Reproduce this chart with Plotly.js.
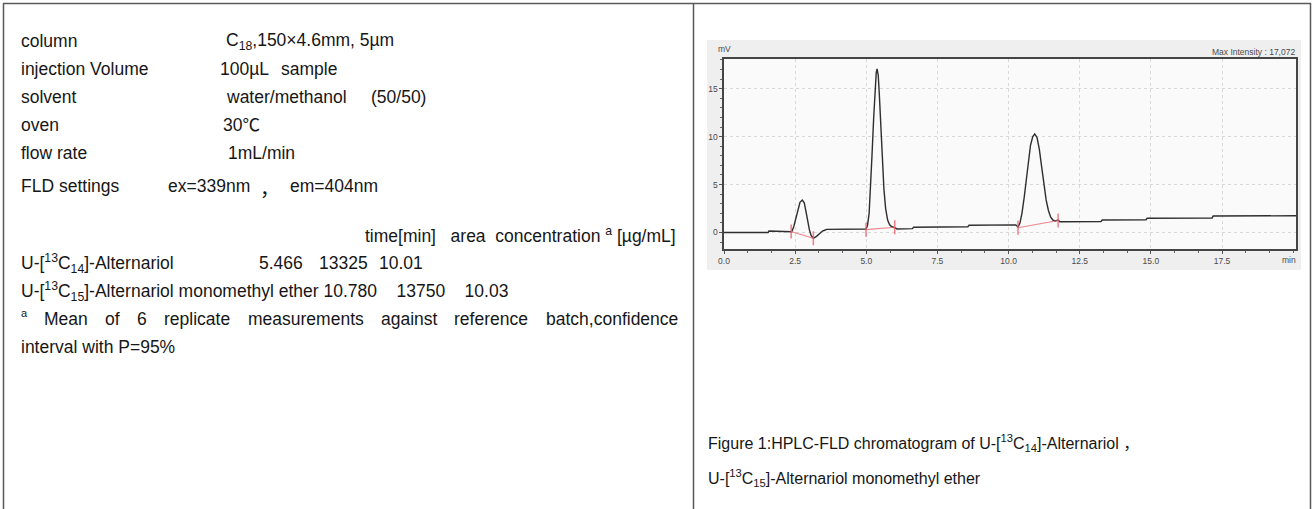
<!DOCTYPE html>
<html>
<head>
<meta charset="utf-8">
<script src="https://cdn.plot.ly/plotly-3.0.1.min.js"></script>
<style>html,body{margin:0;padding:0;background:#fff;}#chart{width:1313px;height:509px;}</style>
</head>
<body>
<div id="chart"></div>
<script>
// ---- chromatogram data ----
const timeMin = [0, 1.55, 1.58, 2.30, 2.38, 2.45, 2.52, 2.60, 2.67, 2.75, 2.82, 2.88, 2.94, 3.00, 3.06,
  3.14, 3.25, 3.36, 3.46, 3.56, 3.60, 4.99, 5.04, 5.10, 5.15, 5.20, 5.26, 5.31, 5.35, 5.38,
  5.42, 5.46, 5.51, 5.56, 5.62, 5.68, 5.75, 5.82, 5.90, 6.00, 6.08, 6.62, 6.66, 8.57, 8.61,
  10.25, 10.33, 10.40, 10.47, 10.55, 10.62, 10.70, 10.77, 10.85, 10.92, 11.00, 11.08, 11.16, 11.24, 11.32,
  11.40, 11.48, 11.56, 11.64, 11.74, 11.80, 13.25, 13.29, 14.83, 14.87, 17.15, 17.19, 20.1];
const signalMv = [0, 0, 0.15, 0.15, 0.08, 0.6, 1.5, 2.5, 3.15, 3.39, 3.1, 2.2, 1.2, 0.3, -0.3,
  -0.6, -0.4, -0.1, 0.15, 0.26, 0.33, 0.36, 0.7, 2.0, 4.5, 8.0, 12.0, 15.2, 16.7, 17.07,
  16.4, 14.3, 11.0, 7.5, 4.5, 2.5, 1.3, 0.8, 0.6, 0.5, 0.37, 0.4, 0.55, 0.6, 0.75,
  0.8, 0.57, 1.0, 2.0, 3.7, 5.6, 7.6, 9.1, 10.0, 10.28, 9.9, 8.7, 6.9, 5.0, 3.4,
  2.3, 1.6, 1.3, 1.2, 1.3, 1.13, 1.15, 1.3, 1.33, 1.48, 1.52, 1.72, 1.75];
// integration baselines (start / end of each peak)
const baseTime = [2.36, 3.14, null, 4.99, 6.00, null, 10.33, 11.74];
const baseMv = [0.1, -0.6, null, 0.3, 0.55, null, 0.5, 1.25];

const xTickVals = [0, 2.5, 5, 7.5, 10, 12.5, 15, 17.5];
const xTickText = ['0.0', '2.5', '5.0', '7.5', '10.0', '12.5', '15.0', '17.5'];
const yTickVals = [0, 5, 10, 15];
const yTickText = ['0', '5', '10', '15'];
const maxIntensity = '17,072';

// ---- table text ----
const conditionLabels = ['column', 'injection Volume', 'solvent', 'oven', 'flow rate'];
const conditionValues = ['C<sub>18</sub>,150×4.6mm, 5µm', '100µL', 'water/methanol', '30℃', '1mL/min'];
const conditionExtras = ['', 'sample', '(50/50)', '', ''];
const fldLabel = 'FLD settings';
const fldValues = ['ex=339nm', '，', 'em=404nm'];
const headerCols = ['time[min]', 'area', 'concentration <sup>a</sup> [µg/mL]'];
const compounds = ['U-[<sup>13</sup>C<sub>14</sub>]-Alternariol', 'U-[<sup>13</sup>C<sub>15</sub>]-Alternariol monomethyl ether'];
const retTimes = ['5.466', '10.780'];
const areas = ['13325', '13750'];
const concs = ['10.01', '10.03'];
const footnoteMark = 'a';
const footnoteWords = ['Mean', 'of', '6', 'replicate', 'measurements', 'against', 'reference', 'batch,confidence'];
const footnoteLine2 = 'interval with P=95%';
const captionLines = ['Figure 1:HPLC-FLD chromatogram of U-[<sup>13</sup>C<sub>14</sub>]-Alternariol ，',
  'U-[<sup>13</sup>C<sub>15</sub>]-Alternariol monomethyl ether'];

// ---- layout helpers ----
const W = 1313, H = 509;
const fx = x => x / W;
const fy = y => 1 - y / H;
const FONT = 'Liberation Sans, Arial, Noto Sans CJK SC, sans-serif';
const FS = 17.5;
const NB = '\u00a0';
const GAP3 = NB + NB + NB + ' ';
const ann = [];
function txt(x, y, text, opt) {
  ann.push(Object.assign({
    xref: 'paper', yref: 'paper', x: fx(x), y: fy(y), text: text,
    xanchor: 'left', yanchor: 'middle', showarrow: false, borderpad: 0,
    font: {family: FONT, size: FS, color: '#161616'}
  }, opt || {}));
}
const ctx = document.createElement('canvas').getContext('2d');
function measure(s, size) { ctx.font = size + 'px "Liberation Sans", Arial, sans-serif'; return ctx.measureText(s).width; }

const condY = [41, 69, 97, 125, 153];
const condX = [225, 219, 225, 222, 227];
const extraX = [0, 280, 370, 0, 0];
conditionLabels.forEach((l, i) => {
  txt(20, condY[i], l);
  txt(condX[i], condY[i], conditionValues[i]);
  if (conditionExtras[i]) txt(extraX[i], condY[i], conditionExtras[i]);
});
txt(20, 186, fldLabel);
txt(167, 186, fldValues[0]);
txt(259, 188, fldValues[1], {font: {family: 'Noto Sans CJK SC, sans-serif', size: FS + 2, color: '#161616'}});
txt(289, 186, fldValues[2]);

// header, right end aligned with the column's right text margin
txt(677, 235, headerCols[0] + NB + NB + NB + headerCols[1] + NB + NB + headerCols[2], {xanchor: 'right'});

txt(20, 263, compounds[0]);
txt(258, 263, retTimes[0]);
txt(318, 263, areas[0]);
txt(378, 263, concs[0]);

txt(20, 291, compounds[1] + ' ' + retTimes[1] + GAP3 + areas[1] + GAP3 + concs[1]);

// justified footnote line (spans the full text column)
(function () {
  const left = 20, right = 677;
  const markW = measure(footnoteMark, 11);
  txt(left, 313, footnoteMark, {font: {family: FONT, size: 11, color: '#161616'}});
  const widths = footnoteWords.map(w => measure(w, FS));
  const total = markW + widths.reduce((a, b) => a + b, 0);
  const gap = (right - left - total) / footnoteWords.length;
  let x = left + markW + gap;
  footnoteWords.forEach((w, i) => {
    txt(x, 319, w);
    x += widths[i] + gap;
  });
})();
txt(20, 347, footnoteLine2);

const CAP = {family: FONT, size: 16, color: '#161616'};
txt(707, 443, captionLines[0], {font: CAP});
txt(707, 478, captionLines[1], {font: CAP});

// chart small texts
const SMALL = {family: 'Liberation Sans, Arial, sans-serif', size: 8.5, color: '#4a4a4a'};
ann.push({xref: 'paper', yref: 'paper', x: fx(1297), y: fy(52), text: 'Max Intensity : ' + maxIntensity,
  xanchor: 'right', yanchor: 'middle', showarrow: false, font: SMALL});
ann.push({xref: 'paper', yref: 'paper', x: fx(724), y: fy(49), text: 'mV',
  xanchor: 'center', yanchor: 'middle', showarrow: false, font: SMALL});
ann.push({xref: 'x', yref: 'paper', x: 19.85, y: fy(260), text: 'min',
  xanchor: 'center', yanchor: 'middle', showarrow: false, font: SMALL});

const BORDER = '#5a5a5a';
const shapes = [
  // table borders
  {type: 'line', xref: 'paper', yref: 'paper', x0: fx(3.5), x1: fx(3.5), y0: fy(3), y1: fy(512), line: {color: BORDER, width: 1.5}},
  {type: 'line', xref: 'paper', yref: 'paper', x0: fx(1310.5), x1: fx(1310.5), y0: fy(3), y1: fy(512), line: {color: BORDER, width: 1.5}},
  {type: 'line', xref: 'paper', yref: 'paper', x0: fx(693.5), x1: fx(693.5), y0: fy(3), y1: fy(512), line: {color: BORDER, width: 1.5}},
  {type: 'line', xref: 'paper', yref: 'paper', x0: fx(3), x1: fx(1311), y0: fy(3.5), y1: fy(3.5), line: {color: BORDER, width: 1.5}},
  // chromatogram picture background
  {type: 'rect', xref: 'paper', yref: 'paper', x0: fx(707), x1: fx(1301), y0: fy(270), y1: fy(40),
    fillcolor: '#efefef', line: {width: 0}, layer: 'below'},
  {type: 'rect', xref: 'x domain', yref: 'y domain', x0: 0, x1: 1, y0: 0, y1: 1,
    fillcolor: '#fafafa', line: {width: 0}, layer: 'below'}
];

const traces = [
  {x: timeMin, y: signalMv, type: 'scatter', mode: 'lines', line: {color: '#2e2e2e', width: 1.4}, hoverinfo: 'skip'},
  {x: baseTime, y: baseMv, type: 'scatter', mode: 'lines+markers', connectgaps: false,
    line: {color: 'rgba(235,95,105,0.75)', width: 1.2},
    marker: {symbol: 'line-ns-open', size: 10, color: 'rgba(235,95,105,0.8)', line: {color: 'rgba(235,95,105,0.8)', width: 1.5}},
    hoverinfo: 'skip'}
];

const layout = {
  width: W, height: H, margin: {l: 0, r: 0, t: 0, b: 0},
  paper_bgcolor: '#ffffff', plot_bgcolor: '#fafafa', showlegend: false,
  xaxis: {domain: [fx(724), fx(1296)], range: [0, 20.1], tickmode: 'array', tickvals: xTickVals, ticktext: xTickText,
    showline: true, mirror: true, linecolor: '#454545', linewidth: 1.6,
    ticks: 'outside', ticklen: 3, tickcolor: '#555', tickfont: SMALL,
    showgrid: true, gridcolor: '#d8d8d8', griddash: 'dot', gridwidth: 1, zeroline: false,
    minor: {dtick: 2.5 / 3, tick0: 0, ticks: 'outside', ticklen: 2, tickcolor: '#666', showgrid: false}},
  yaxis: {domain: [fy(249), fy(59)], range: [-1.72, 18.1], tickmode: 'array', tickvals: yTickVals, ticktext: yTickText,
    showline: true, mirror: true, linecolor: '#454545', linewidth: 1.6,
    ticks: 'outside', ticklen: 3, tickcolor: '#555', tickfont: SMALL,
    showgrid: true, gridcolor: '#d8d8d8', griddash: 'dot', gridwidth: 1, zeroline: false,
    minor: {dtick: 1, tick0: 0, ticks: 'outside', ticklen: 2, tickcolor: '#666', showgrid: false}},
  annotations: ann, shapes: shapes
};

Plotly.newPlot('chart', traces, layout, {staticPlot: true, displayModeBar: false});
</script>
</body>
</html>
